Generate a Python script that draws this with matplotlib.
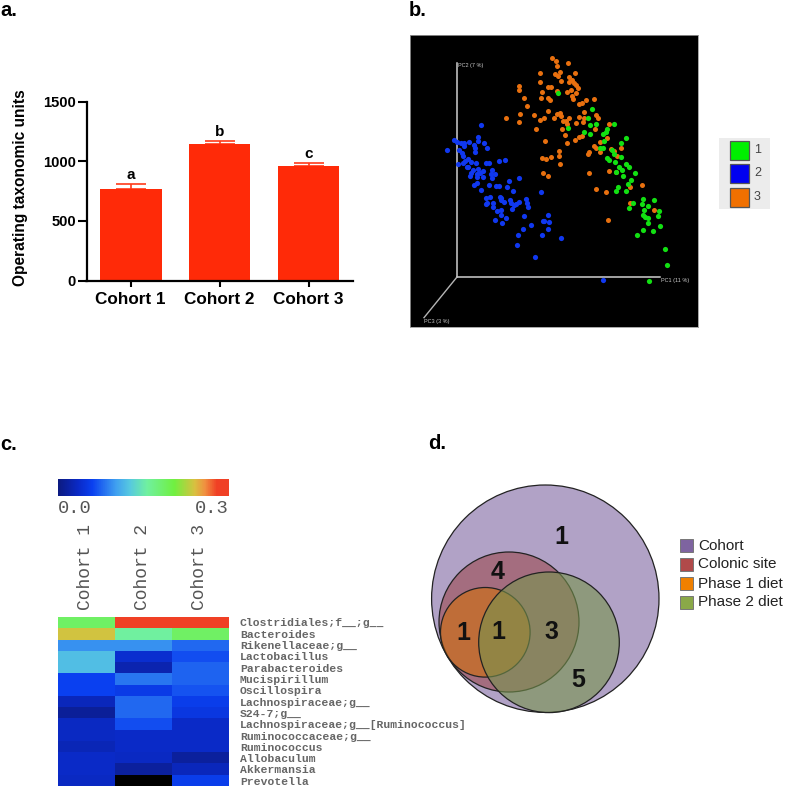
import numpy as np
import matplotlib
matplotlib.use("Agg")
import matplotlib.pyplot as plt
from matplotlib.colors import LinearSegmentedColormap
from matplotlib.cm import ScalarMappable
from matplotlib.patches import Circle, Rectangle

W, H = 787, 790
SANS = "Liberation Sans"
MONO = "Liberation Mono"

# panel a
cohorts = ["Cohort 1", "Cohort 2", "Cohort 3"]
otu_mean = [771, 1147, 962]
otu_err = [36, 25, 22]
otu_letters = ["a", "b", "c"]

# panel b, positions (arbitrary PCoA units)
orange_pc1 = [455, 467, 470, 503, 419, 480, 464, 473, 524, 506, 421, 484, 507, 517, 523, 527, 533, 357, 357, 444,
              454, 427, 471, 512, 501, 528, 516, 518, 373, 422, 444, 449, 581, 558, 547, 537, 381, 445, 552, 359,
              402, 472, 480, 484, 432, 421, 463, 508, 536, 553, 588, 594, 319, 356, 490, 497, 502, 529, 548, 407,
              487, 585, 627, 494, 545, 537, 526, 620, 500, 436, 601, 581, 587, 663, 632, 643, 478, 568, 563, 600,
              477, 425, 438, 453, 650, 479, 626, 428, 443, 568, 648, 589, 617, 726, 690, 690, 762, 625]
orange_pc2 = [84, 92, 107, 98, 128, 127, 131, 139, 128, 141, 156, 154, 156, 150, 158, 165, 175, 167, 180, 170,
              170, 185, 183, 180, 187, 190, 197, 208, 204, 205, 205, 211, 207, 211, 218, 222, 229, 243, 247, 253,
              255, 253, 250, 258, 263, 269, 264, 264, 260, 264, 255, 263, 263, 277, 274, 274, 281, 280, 277, 296,
              298, 296, 281, 316, 317, 321, 330, 324, 338, 334, 336, 347, 355, 355, 358, 364, 364, 367, 372, 365,
              379, 385, 386, 382, 378, 402, 423, 428, 439, 430, 425, 477, 487, 465, 471, 518, 541, 569]
green_pc1 = [475, 575, 564, 569, 588, 505, 641, 622, 617, 608, 551, 571, 612, 678, 662, 600, 608, 635, 642, 663,
             620, 628, 677, 688, 658, 645, 667, 648, 706, 668, 694, 683, 655, 648, 679, 699, 688, 729, 762, 727,
             744, 733, 777, 729, 735, 743, 775, 745, 780, 729, 759, 710, 794, 800, 746]
green_pc2 = [190, 236, 265, 285, 281, 294, 281, 297, 307, 312, 306, 312, 332, 325, 339, 354, 354, 361, 372, 382,
             384, 390, 403, 410, 411, 395, 420, 425, 429, 437, 449, 462, 470, 483, 482, 520, 533, 507, 509, 521,
             528, 539, 543, 555, 560, 563, 558, 578, 587, 600, 604, 616, 657, 704, 752]
blue_pc1 = [242, 233, 235, 161, 172, 184, 192, 208, 251, 221, 192, 224, 262, 141, 178, 225, 185, 190, 204, 196,
            214, 228, 188, 174, 257, 267, 298, 314, 200, 204, 234, 220, 248, 276, 213, 231, 241, 272, 285, 210,
            230, 250, 275, 326, 358, 268, 288, 298, 320, 230, 223, 244, 340, 422, 258, 270, 300, 303, 302, 312,
            331, 357, 378, 262, 258, 280, 280, 332, 347, 342, 381, 384, 336, 292, 303, 303, 317, 285, 305, 372,
            443, 433, 428, 447, 393, 443, 369, 354, 425, 484, 352, 405, 610]
blue_pc2 = [286, 322, 333, 331, 335, 338, 338, 335, 339, 346, 349, 355, 353, 360, 360, 365, 370, 378, 388, 392,
            397, 398, 398, 403, 398, 398, 394, 391, 410, 412, 416, 420, 422, 421, 430, 432, 430, 433, 433, 439,
            440, 440, 444, 452, 444, 464, 468, 468, 470, 460, 466, 480, 484, 487, 503, 502, 500, 504, 510, 517,
            510, 515, 508, 518, 522, 518, 530, 520, 523, 525, 520, 532, 538, 542, 539, 554, 563, 570, 580, 558,
            554, 572, 573, 576, 586, 596, 598, 615, 615, 623, 646, 681, 751]

# panel c
taxa = ["Clostridiales;f__;g__", "Bacteroides", "Rikenellaceae;g__", "Lactobacillus", "Parabacteroides",
        "Mucispirillum", "Oscillospira", "Lachnospiraceae;g__", "S24-7;g__",
        "Lachnospiraceae;g__[Ruminococcus]", "Ruminococcaceae;g__", "Ruminococcus", "Allobaculum",
        "Akkermansia", "Prevotella"]
abund_c1 = [0.186, 0.237, 0.096, 0.120, 0.120, 0.060, 0.060, 0.030, 0.012, 0.033, 0.033, 0.027, 0.036, 0.036, 0.033]
abund_c2 = [0.300, 0.156, 0.096, 0.040, 0.024, 0.084, 0.054, 0.078, 0.078, 0.066, 0.036, 0.036, 0.033, 0.015, np.nan]
abund_c3 = [0.300, 0.186, 0.078, 0.066, 0.075, 0.075, 0.069, 0.057, 0.051, 0.036, 0.036, 0.036, 0.015, 0.030, 0.057]

# panel d
venn_names = ["Cohort", "Colonic site", "Phase 1 diet", "Phase 2 diet"]
venn_colors = ["#7e64a0", "#b04a4a", "#f08000", "#8aa848"]
venn_fills = ["#7e64a0", "#9c4a50", "#d26d09", "#77944d"]
venn_counts = ["1", "4", "1", "1", "3", "5"]


def px_axes(left, top, right, bottom, **kw):
    return fig.add_axes([left / W, 1 - bottom / H, (right - left) / W, (bottom - top) / H], **kw)


fig = plt.figure(figsize=(W / 100, H / 100), dpi=100)

# overlay in image pixels for panel letters, legends and the venn
ov = px_axes(0, 0, W, H)
ov.set_xlim(0, W)
ov.set_ylim(H, 0)
ov.axis("off")

for txt, x, y in [("a.", 0, 16), ("b.", 409, 16), ("c.", 0, 450), ("d.", 428, 449)]:
    ov.text(x, y, txt, family=SANS, fontweight="bold", fontsize=14.5, va="baseline", color="black")

# a. bars
ax = px_axes(86.5, 101.7, 353, 280.5)
pos = np.arange(3)
ax.bar(pos, otu_mean, width=0.693, color="#ff2a08", zorder=2)
ax.errorbar(pos, otu_mean, yerr=[[0, 0, 0], otu_err], fmt="none", ecolor="#ff3b1a", elinewidth=1.2,
            capsize=11, capthick=1.2, zorder=1)
for p, m, e, l in zip(pos, otu_mean, otu_err, otu_letters):
    ax.text(p, m + e + 18, l, ha="center", va="bottom", family=SANS, fontweight="bold", fontsize=11)
ax.set_xlim(-0.497, 2.5)
ax.set_ylim(0, 1500)
ax.set_yticks([0, 500, 1000, 1500])
ax.set_xticks(pos)
ax.set_xticklabels(cohorts, family=SANS, fontweight="bold", fontsize=12.3)
ax.set_ylabel("Operating taxonomic units", family=SANS, fontweight="bold", fontsize=11.2)
ax.yaxis.set_label_coords(-0.22, 0.52)
for lab in ax.get_yticklabels():
    lab.set_family(SANS)
    lab.set_fontweight("bold")
    lab.set_fontsize(10.6)
ax.tick_params(axis="y", width=1.5, length=6.5, pad=1)
ax.tick_params(axis="x", width=1.5, length=4.5, pad=4)
for s in ["top", "right"]:
    ax.spines[s].set_visible(False)
for s in ["left", "bottom"]:
    ax.spines[s].set_linewidth(1.6)

# b. PCoA
pc = px_axes(410, 35, 697.7, 327, facecolor="black")
pc.set_xlim(30, 893)
pc.set_ylim(891, 15)
pc.set_xticks([])
pc.set_yticks([])
for s in pc.spines.values():
    s.set_color("#999999")
    s.set_linewidth(0.6)
pc.plot([171, 171], [100, 741], color="#cfcfcf", lw=1.1, zorder=1)
pc.plot([171, 780], [741, 741], color="#cfcfcf", lw=1.1, zorder=1)
pc.plot([171, 72], [741, 863], color="#b5b5b5", lw=1.0, zorder=1)
pc.text(174, 107, "PC2 (7 %)", color="#c8c8c8", fontsize=4, family=SANS, va="center")
pc.text(782, 751, "PC1 (11 %)", color="#c8c8c8", fontsize=4, family=SANS, va="center")
pc.text(72, 875, "PC3 (3 %)", color="#c8c8c8", fontsize=4, family=SANS, va="center")
pc.scatter(orange_pc1, orange_pc2, s=13, color="#e8700f", linewidths=0, zorder=2)
pc.scatter(green_pc1, green_pc2, s=14, color="#12e012", linewidths=0, zorder=3)
pc.scatter(blue_pc1, blue_pc2, s=14, color="#1038f0", linewidths=0, zorder=3)

ov.add_patch(Rectangle((719, 138), 51, 71, facecolor="#ececec", edgecolor="none"))
for i, (c, l) in enumerate(zip(["#00f000", "#0000f0", "#f07000"], ["1", "2", "3"])):
    y = 140.5 + i * 23.5
    ov.add_patch(Rectangle((729.5, y), 19, 19, facecolor=c, edgecolor="#555555", lw=0.9))
    ov.text(754, y + 9.5, l, family=SANS, fontsize=9, color="#444444", va="center")

# c. heatmap
stops = [(0.0, "#0c1a80"), (0.12, "#0a2ac8"), (0.2, "#0a40f0"), (0.34, "#40a0f0"), (0.42, "#56c8e0"),
         (0.52, "#70f0a0"), (0.68, "#70f040"), (0.80, "#d8c040"), (0.86, "#f09040"), (0.93, "#f04025"),
         (1.0, "#f04025")]
cmap = LinearSegmentedColormap.from_list("heat", stops, N=256)
cmap.set_bad("black")

hm = px_axes(58, 617, 229, 786)
hm.pcolormesh(np.array([abund_c1, abund_c2, abund_c3]).T, cmap=cmap, vmin=0, vmax=0.3)
hm.set_ylim(15, 0)
hm.axis("off")

cax = px_axes(58, 479, 229, 496)
cb = fig.colorbar(ScalarMappable(cmap=cmap, norm=plt.Normalize(0, 0.3)), cax=cax, orientation="horizontal")
cb.set_ticks([])
cb.outline.set_visible(False)

ov.text(58, 508.5, "0.0", family=MONO, fontsize=13.5, color="#555555", ha="left", va="center")
ov.text(229, 508.5, "0.3", family=MONO, fontsize=13.5, color="#555555", ha="right", va="center")
for x, c in zip([85, 142.5, 200], cohorts):
    ov.text(x, 609.5, c, family=MONO, fontsize=13, color="#555555", rotation=90, ha="center", va="bottom")
for i, t in enumerate(taxa):
    ov.text(240, 623.2 + i * 11.33, t, family=MONO, fontsize=8.2, color="#333333", va="center", fontweight="bold",
            alpha=0.75)

# d. venn
circles = [(545.3, 598.7, 113.7), (509, 622, 70), (485.3, 632.3, 44.8), (549, 642.3, 70.3)]
for (cx, cy, r), c in zip(circles, venn_fills):
    ov.add_patch(Circle((cx, cy), r, facecolor=c, alpha=0.6, edgecolor="none"))
    ov.add_patch(Circle((cx, cy), r, facecolor="none", edgecolor="#222222", lw=0.9))
count_xy = [(561, 537), (498, 572), (463, 633), (498, 632), (551, 632), (578, 680)]
for (x, y), n in zip(count_xy, venn_counts):
    ov.text(x, y, n, family=SANS, fontweight="bold", fontsize=18, ha="center", va="center", color="#111111")
for i, (n, c) in enumerate(zip(venn_names, venn_colors)):
    y = 539 + i * 19
    ov.add_patch(Rectangle((679.5, y), 13.5, 13, facecolor=c, edgecolor="#777777", lw=0.7))
    ov.text(698.5, y + 6.5, n, family=SANS, fontsize=11, color="#222222", va="center")

fig.savefig("out.png", dpi=100)
